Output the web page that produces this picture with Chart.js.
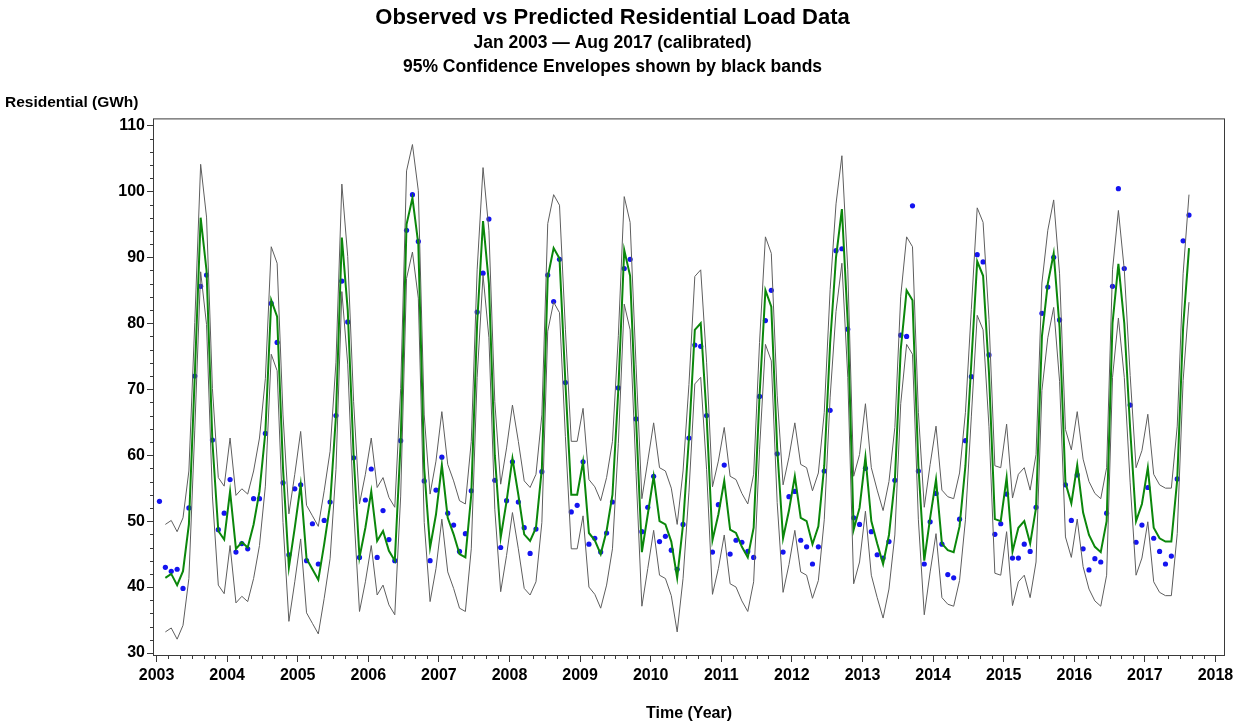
<!DOCTYPE html>
<html>
<head>
<meta charset="utf-8">
<title>Observed vs Predicted Residential Load Data</title>
<script src="https://cdn.jsdelivr.net/npm/chart.js@4.4.1/dist/chart.umd.min.js"></script>
<style>
  html, body { margin: 0; padding: 0; background: #fff; }
  #loadChart { display: block; }
</style>
</head>
<body>
<canvas id="loadChart" width="1238" height="724"></canvas>
<script>
// --- data: monthly residential load, Jan 2003 .. Aug 2017 (GWh) ---
const startYear = 2003;
const yearTicks = [2003, 2004, 2005, 2006, 2007, 2008, 2009, 2010, 2011, 2012, 2013, 2014, 2015, 2016, 2017, 2018];
const loadTicks = [30, 40, 50, 60, 70, 80, 90, 100, 110];

const observed = [
  53.0, 43.0, 42.4, 42.7, 39.8, 52.0, 72.0, 85.6, 87.3, 62.3, 48.7, 51.2,   // 2003
  56.3, 45.3, 46.6, 45.8, 53.4, 53.4, 63.3, 83.0, 77.1, 55.8, 44.9, 54.9,   // 2004
  55.5, 44.0, 49.6, 43.5, 50.1, 52.9, 66.0, 86.4, 80.2, 59.6, 44.5, 53.2,   // 2005
  57.9, 44.5, 51.6, 47.2, 44.0, 62.2, 94.1, 99.5, 92.4, 56.1, 44.0, 54.7,   // 2006
  59.7, 51.2, 49.4, 45.4, 48.1, 54.6, 81.7, 87.6, 95.8, 56.2, 46.0, 53.1,   // 2007
  59.0, 52.9, 49.0, 45.1, 48.8, 57.5, 87.3, 83.3, 89.7, 71.0, 51.4, 52.4,   // 2008
  59.0, 46.5, 47.4, 45.3, 48.2, 52.9, 70.2, 88.3, 89.7, 65.5, 48.4, 52.1,   // 2009
  56.8, 46.9, 47.7, 45.6, 42.7, 49.5, 62.6, 76.7, 76.5, 66.0, 45.3, 52.5,   // 2010
  58.5, 45.0, 47.1, 46.8, 45.4, 44.5, 68.9, 80.4, 85.0, 60.2, 45.3, 53.7,   // 2011
  54.5, 47.1, 46.1, 43.5, 46.1, 57.6, 66.8, 91.0, 91.3, 79.1, 50.5, 49.5,   // 2012
  58.0, 48.4, 44.9, 44.4, 46.9, 56.2, 78.2, 78.0, 97.8, 57.6, 43.5, 49.9,   // 2013
  54.2, 46.5, 41.9, 41.4, 50.3, 62.2, 71.9, 90.4, 89.3, 75.2, 48.0, 49.6,   // 2014
  54.1, 44.4, 44.4, 46.5, 45.4, 52.1, 81.5, 85.5, 90.0, 80.5, 55.5, 50.1,   // 2015
  57.0, 45.8, 42.6, 44.3, 43.8, 51.2, 85.6, 100.4, 88.3, 67.6, 46.8, 49.4,  // 2016
  55.1, 47.4, 45.4, 43.5, 44.7, 56.4, 92.5, 96.4                            // 2017
];

const predicted = [
  null, 41.4, 42.0, 40.3, 42.4, 49.5, 72.0, 96.0, 88.0, 62.0, 48.5, 47.2,   // 2003
  54.5, 45.8, 46.8, 46.0, 49.5, 54.5, 63.5, 83.5, 81.0, 58.0, 43.0, 49.0,   // 2004
  55.5, 44.3, 42.7, 41.1, 46.5, 52.5, 66.0, 93.0, 82.0, 60.0, 44.5, 49.0,   // 2005
  54.5, 47.0, 48.5, 45.5, 44.0, 62.0, 95.0, 99.0, 92.0, 58.0, 46.0, 51.0,   // 2006
  58.5, 50.5, 48.0, 45.0, 44.5, 54.0, 80.0, 95.5, 86.0, 60.0, 47.5, 53.0,   // 2007
  59.5, 54.0, 48.0, 47.0, 49.0, 58.0, 87.0, 91.4, 89.8, 71.0, 54.0, 54.0,   // 2008
  59.0, 48.2, 47.1, 45.0, 48.5, 54.0, 70.0, 91.1, 87.2, 65.7, 45.3, 51.0,   // 2009
  56.8, 50.0, 49.5, 46.9, 41.4, 49.5, 62.6, 79.0, 80.0, 66.0, 47.1, 51.0,   // 2010
  56.1, 48.7, 48.2, 46.1, 44.5, 49.0, 69.0, 85.0, 82.5, 61.0, 47.4, 51.6,   // 2011
  56.8, 50.5, 50.0, 46.5, 49.2, 58.4, 77.0, 90.0, 97.3, 80.0, 48.7, 52.0,   // 2012
  59.7, 50.0, 46.6, 43.5, 47.9, 56.1, 76.0, 85.0, 83.5, 58.4, 44.0, 50.5,   // 2013
  56.3, 46.6, 45.6, 45.3, 49.2, 58.4, 74.0, 89.4, 87.2, 72.5, 50.3, 50.0,   // 2014
  56.6, 45.4, 49.0, 50.0, 46.6, 52.0, 78.0, 86.0, 90.6, 79.4, 55.8, 52.7,   // 2015
  58.5, 51.3, 47.9, 46.1, 45.3, 50.0, 80.0, 89.0, 80.0, 64.0, 50.0, 52.6,   // 2016
  58.1, 49.0, 47.4, 46.9, 46.9, 56.3, 79.4, 91.4                            // 2017
];

// 95% confidence envelope
const upperBand = [
  null, 49.5, 50.1, 48.4, 50.5, 57.6, 80.1, 104.1, 96.1, 70.1, 56.6, 55.3,  // 2003
  62.6, 53.9, 54.9, 54.1, 57.6, 62.6, 71.6, 91.6, 89.1, 66.1, 51.1, 57.1,   // 2004
  63.6, 52.4, 50.8, 49.2, 54.6, 60.6, 74.1, 101.1, 90.1, 68.1, 52.6, 57.1,  // 2005
  62.6, 55.1, 56.6, 53.6, 52.1, 70.1, 103.1, 107.1, 100.1, 66.1, 54.1, 59.1, // 2006
  66.6, 58.6, 56.1, 53.1, 52.6, 62.1, 88.1, 103.6, 94.1, 68.1, 55.6, 61.1,  // 2007
  67.6, 62.1, 56.1, 55.1, 57.1, 66.1, 95.1, 99.5, 97.9, 79.1, 62.1, 62.1,   // 2008
  67.1, 56.3, 55.2, 53.1, 56.6, 62.1, 78.1, 99.2, 95.3, 73.8, 53.4, 59.1,   // 2009
  64.9, 58.1, 57.6, 55.0, 49.5, 57.6, 70.7, 87.1, 88.1, 74.1, 55.2, 59.1,   // 2010
  64.2, 56.8, 56.3, 54.2, 52.6, 57.1, 77.1, 93.1, 90.6, 69.1, 55.5, 59.7,   // 2011
  64.9, 58.6, 58.1, 54.6, 57.3, 66.5, 85.1, 98.1, 105.4, 88.1, 56.8, 60.1,  // 2012
  67.8, 58.1, 54.7, 51.6, 56.0, 64.2, 84.1, 93.1, 91.6, 66.5, 52.1, 58.6,   // 2013
  64.4, 54.7, 53.7, 53.4, 57.3, 66.5, 82.1, 97.5, 95.3, 80.6, 58.4, 58.1,   // 2014
  64.7, 53.5, 57.1, 58.1, 54.7, 60.1, 86.1, 94.1, 98.7, 87.5, 63.9, 60.8,   // 2015
  66.6, 59.4, 56.0, 54.2, 53.4, 58.1, 88.1, 97.1, 88.1, 72.1, 58.1, 60.7,   // 2016
  66.2, 57.1, 55.5, 55.0, 55.0, 64.4, 87.5, 99.5                            // 2017
];

const lowerBand = [
  null, 33.2, 33.8, 32.1, 34.2, 41.3, 63.8, 87.8, 79.8, 53.8, 40.3, 39.0,   // 2003
  46.3, 37.6, 38.6, 37.8, 41.3, 46.3, 55.3, 75.3, 72.8, 49.8, 34.8, 40.8,   // 2004
  47.3, 36.1, 34.5, 32.9, 38.3, 44.3, 57.8, 84.8, 73.8, 51.8, 36.3, 40.8,   // 2005
  46.3, 38.8, 40.3, 37.3, 35.8, 53.8, 86.8, 90.8, 83.8, 49.8, 37.8, 42.8,   // 2006
  50.3, 42.3, 39.8, 36.8, 36.3, 45.8, 71.8, 87.3, 77.8, 51.8, 39.3, 44.8,   // 2007
  51.3, 45.8, 39.8, 38.8, 40.8, 49.8, 78.8, 83.2, 81.6, 62.8, 45.8, 45.8,   // 2008
  50.8, 40.0, 38.9, 36.8, 40.3, 45.8, 61.8, 82.9, 79.0, 57.5, 37.1, 42.8,   // 2009
  48.6, 41.8, 41.3, 38.7, 33.2, 41.3, 54.4, 70.8, 71.8, 57.8, 38.9, 42.8,   // 2010
  47.9, 40.5, 40.0, 37.9, 36.3, 40.8, 60.8, 76.8, 74.3, 52.8, 39.2, 43.4,   // 2011
  48.6, 42.3, 41.8, 38.3, 41.0, 50.2, 68.8, 81.8, 89.1, 71.8, 40.5, 43.8,   // 2012
  51.5, 41.8, 38.4, 35.3, 39.7, 47.9, 67.8, 76.8, 75.3, 50.2, 35.8, 42.3,   // 2013
  48.1, 38.4, 37.4, 37.1, 41.0, 50.2, 65.8, 81.2, 79.0, 64.3, 42.1, 41.8,   // 2014
  48.4, 37.2, 40.8, 41.8, 38.4, 43.8, 69.8, 77.8, 82.4, 71.2, 47.6, 44.5,   // 2015
  50.3, 43.1, 39.7, 37.9, 37.1, 41.8, 71.8, 80.8, 71.8, 55.8, 41.8, 44.4,   // 2016
  49.9, 40.8, 39.2, 38.7, 38.7, 48.1, 71.3, 83.2                            // 2017
];

// month index -> decimal year (mid-month) on the time axis
const toPoints = arr => arr.map((v, i) => ({ x: startYear + (i + 0.5) / 12, y: v }));

const FONT = "'Liberation Sans', Arial, Helvetica, sans-serif";
const AXIS_COLOR = '#3a3a3a';

// frame box, minor ticks and the horizontal y-axis caption
const framePlugin = {
  id: 'sasFrame',
  afterDraw(chart) {
    const { ctx, chartArea: a, scales: { x, y } } = chart;
    ctx.save();
    ctx.strokeStyle = AXIS_COLOR;
    ctx.lineWidth = 1;
    ctx.strokeRect(a.left + 0.5, a.top + 0.5, a.right - a.left - 1, a.bottom - a.top - 1);

    ctx.beginPath();
    for (let yr = yearTicks[0]; yr < yearTicks[yearTicks.length - 1]; yr++) {
      for (let k = 1; k < 6; k++) {
        const px = Math.round(x.getPixelForValue(yr + k / 6)) + 0.5;
        ctx.moveTo(px, a.bottom);
        ctx.lineTo(px, a.bottom + 3);
      }
    }
    for (let v = loadTicks[0]; v < loadTicks[loadTicks.length - 1]; v += 2) {
      if (v % 10 === 0) continue;
      const py = Math.round(y.getPixelForValue(v)) + 0.5;
      ctx.moveTo(a.left, py);
      ctx.lineTo(a.left - 3, py);
    }
    ctx.stroke();

    ctx.fillStyle = '#000';
    ctx.font = `bold 15.5px ${FONT}`;
    ctx.textAlign = 'left';
    ctx.textBaseline = 'middle';
    ctx.fillText('Residential (GWh)', 5, 103);
    ctx.restore();
  }
};

new Chart(document.getElementById('loadChart'), {
  type: 'line',
  data: {
    datasets: [
      {
        label: 'Predicted',
        data: toPoints(predicted),
        borderColor: '#0b870b',
        borderWidth: 2,
        pointRadius: 0,
        tension: 0,
        order: 1
      },
      {
        label: 'Upper 95%',
        data: toPoints(upperBand),
        borderColor: '#5e5e5e',
        borderWidth: 1,
        pointRadius: 0,
        tension: 0,
        order: 2
      },
      {
        label: 'Lower 95%',
        data: toPoints(lowerBand),
        borderColor: '#5e5e5e',
        borderWidth: 1,
        pointRadius: 0,
        tension: 0,
        order: 2
      },
      {
        label: 'Observed',
        data: toPoints(observed),
        showLine: false,
        pointRadius: 2.6,
        pointBorderWidth: 0,
        pointBackgroundColor: '#1414f0',
        order: 3
      }
    ]
  },
  options: {
    responsive: false,
    animation: false,
    devicePixelRatio: 1,
    layout: { padding: { left: 0, right: 13, top: 0, bottom: 0 } },
    plugins: {
      legend: { display: false },
      tooltip: { enabled: false },
      title: {
        display: true,
        text: 'Observed vs Predicted Residential Load Data',
        color: '#000',
        font: { family: FONT, size: 22, weight: 'bold', lineHeight: 1.2 },
        padding: { top: 5, bottom: 0 }
      },
      subtitle: {
        display: true,
        text: ['Jan 2003 \u2014 Aug 2017 (calibrated)', '95% Confidence Envelopes shown by black bands'],
        color: '#000',
        font: { family: FONT, size: 17.5, weight: 'bold', lineHeight: 24 / 17.5 },
        padding: { top: 0, bottom: 39 }
      }
    },
    scales: {
      x: {
        type: 'linear',
        min: 2002.95,
        max: 2018.135,
        afterBuildTicks: axis => { axis.ticks = yearTicks.map(v => ({ value: v })); },
        afterFit: axis => { axis.height = 68; },
        border: { display: false },
        grid: { drawOnChartArea: false, drawTicks: true, tickLength: 6, color: AXIS_COLOR },
        ticks: {
          color: '#000',
          padding: 4,
          maxRotation: 0,
          autoSkip: false,
          font: { family: FONT, size: 16, weight: 'bold' },
          callback: v => String(v)
        },
        title: {
          display: true,
          text: 'Time (Year)',
          color: '#000',
          font: { family: FONT, size: 16, weight: 'bold', lineHeight: 1.2 },
          padding: { top: 0, bottom: 1 }
        }
      },
      y: {
        min: 29.55,
        max: 111.06,
        afterBuildTicks: axis => { axis.ticks = loadTicks.map(v => ({ value: v })); },
        afterFit: axis => { axis.width = 153; },
        border: { display: false },
        grid: { drawOnChartArea: false, drawTicks: true, tickLength: 6, color: AXIS_COLOR },
        ticks: {
          color: '#000',
          padding: 2,
          font: { family: FONT, size: 16, weight: 'bold' },
          callback: v => String(v)
        }
      }
    }
  },
  plugins: [framePlugin]
});
</script>
</body>
</html>
